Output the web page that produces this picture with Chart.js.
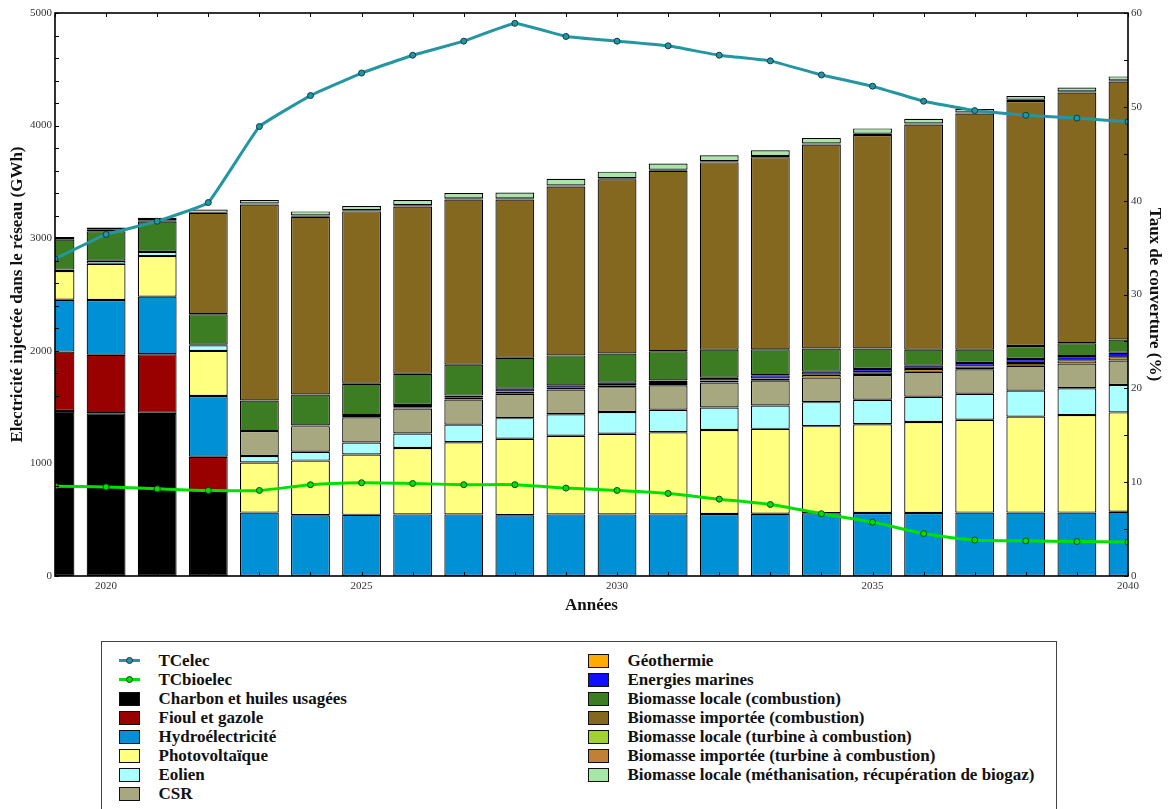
<!DOCTYPE html>
<html><head><meta charset="utf-8">
<script src="https://cdn.jsdelivr.net/npm/chart.js@4.4.1/dist/chart.umd.min.js"></script>
<style>
html,body{margin:0;padding:0;background:#fff;}
#wrap{position:relative;width:1170px;height:809px;overflow:hidden;background:#fff;}
#c{position:absolute;left:0;top:0;}
#legend{position:absolute;left:101px;top:641px;width:956px;height:230px;border:1.5px solid #444;box-sizing:border-box;font:bold 17px 'Liberation Serif','Times New Roman',serif;color:#111;}
.col{position:absolute;top:9px;}
.item{position:relative;height:19px;line-height:19px;white-space:nowrap;}
.sw{position:absolute;left:0;top:2.5px;width:21px;height:14px;box-sizing:border-box;border:1px solid #111;}
.ln{position:absolute;left:0;top:8px;width:21px;height:3px;}
.dot{position:absolute;left:7px;top:-2px;width:7px;height:7px;border-radius:50%;box-sizing:border-box;border:1px solid #0b2b2b;}
.tx{position:absolute;left:40px;top:0;}
</style></head>
<body>
<div id="wrap">
<canvas id="c" width="1170" height="625"></canvas>
<div id="legend"></div>
</div>
<script>
// ---- Data ----
const years = [2019,2020,2021,2022,2023,2024,2025,2026,2027,2028,2029,2030,2031,2032,2033,2034,2035,2036,2037,2038,2039,2040];
const charbon    = [1466,1446,1449,747,0,0,0,0,0,0,0,0,0,0,0,0,0,0,0,0,0,0];
const fioul      = [527,519,520,312,0,0,0,0,0,0,0,0,0,0,0,0,0,0,0,0,0,0];
const hydro      = [461,486,512,540,563,540,543,547,547,540,547,547,547,550,553,557,560,560,563,563,563,570];
const pv         = [255,322,360,400,445,485,536,590,641,679,699,716,729,747,754,774,788,808,825,852,866,883];
const eolien     = [12,27,37,50,58,78,106,129,156,183,190,193,201,200,207,213,217,224,231,231,238,244];
const csr        = [0,0,0,5,221,228,224,221,224,217,220,221,217,221,221,218,220,221,217,221,220,217];
const geo        = [0,0,0,0,0,0,0,12,14,20,15,18,20,18,20,25,25,25,25,25,28,28];
const marines    = [0,0,0,0,0,6,20,20,20,25,22,22,22,25,28,28,28,30,30,35,38,40];
const bioLocComb = [266,262,269,271,271,275,278,277,275,274,266,259,260,249,230,205,182,142,119,116,114,119];
const bioImpComb = [15,14,12,900,1741,1579,1531,1486,1467,1406,1500,1547,1602,1663,1707,1812,1897,1999,2097,2176,2227,2291];
const bioLocTurb = [0,0,0,0,10,10,10,10,10,10,10,10,10,10,10,10,10,10,10,10,10,10];
const bioImpTurb = [0,0,0,0,0,0,0,0,0,0,0,0,0,0,0,0,0,0,0,0,0,0];
const methan     = [8,20,22,30,31,37,38,48,47,51,58,58,55,54,51,48,48,41,31,34,34,35];
const tcElec     = [33.8,36.4,37.8,39.8,47.9,51.2,53.6,55.5,57.0,58.9,57.5,57.0,56.5,55.5,54.9,53.4,52.2,50.6,49.6,49.1,48.8,48.4];
const tcBioelec  = [9.57,9.49,9.29,9.12,9.12,9.73,9.94,9.86,9.73,9.73,9.37,9.12,8.80,8.19,7.62,6.64,5.74,4.52,3.83,3.75,3.67,3.62];

const leftTicks = [0,1000,2000,3000,4000,5000];
const rightTicks = [0,10,20,30,40,50,60];
const xLabelYears = [2020,2025,2030,2035,2040];

const barSeries = [
  ['Charbon et huiles usagées', charbon, '#000000'],
  ['Fioul et gazole', fioul, '#990000'],
  ['Hydroélectricité', hydro, '#0090d6'],
  ['Photovoltaïque', pv, '#ffff80'],
  ['Eolien', eolien, '#aaffff'],
  ['CSR', csr, '#a8a880'],
  ['Géothermie', geo, '#ffaa00'],
  ['Energies marines', marines, '#1010ff'],
  ['Biomasse locale (combustion)', bioLocComb, '#3c7d24'],
  ['Biomasse importée (combustion)', bioImpComb, '#846820'],
  ['Biomasse locale (turbine à combustion)', bioLocTurb, '#a2d230'],
  ['Biomasse importée (turbine à combustion)', bioImpTurb, '#c08038'],
  ['Biomasse locale (méthanisation, récupération de biogaz)', methan, '#a8e6a8']
];
const lineSeries = [
  ['TCelec', tcElec, '#2396a2', '#0d3d44', 0.08],
  ['TCbioelec', tcBioelec, '#00e000', '#0a4a0a', 0.25]
];

const FONT = "'Liberation Serif','Times New Roman',serif";
Chart.defaults.font.family = FONT;

const datasets = [];
lineSeries.forEach(([name, vals, col, bcol, tens]) => {
  datasets.push({
    type:'line', label:name, yAxisID:'y1', xAxisID:'x', order:0,
    data: years.map((y,i)=>({x:y, y:vals[i]})),
    borderColor:col, borderWidth:3, tension:tens,
    pointRadius:3, pointBackgroundColor:col, pointBorderColor:bcol, pointBorderWidth:1
  });
});
barSeries.forEach(([name, vals, col]) => {
  datasets.push({
    type:'bar', label:name, yAxisID:'y', xAxisID:'x', order:1, clip:0,
    data: years.map((y,i)=>({x:y, y:vals[i]})),
    backgroundColor:col, borderColor:'#000', borderWidth:1.2, borderSkipped:false,
    barPercentage:0.76, categoryPercentage:1.0
  });
});

const frameTicks = {
  id:'frameTicks',
  afterDraw(chart){
    const {ctx, chartArea:a, scales:{x,y,y1}} = chart;
    ctx.save();
    ctx.strokeStyle = '#000';
    ctx.lineWidth = 1;
    ctx.beginPath();
    years.forEach(v => {
      const px = Math.round(x.getPixelForValue(v)) + 0.5;
      ctx.moveTo(px, a.bottom); ctx.lineTo(px, a.bottom - 4);
      ctx.moveTo(px, a.top); ctx.lineTo(px, a.top + 4);
    });
    for (let v = y.min; v <= y.max; v += 200) {
      const py = Math.round(y.getPixelForValue(v)) + 0.5;
      ctx.moveTo(a.left, py); ctx.lineTo(a.left + 4, py);
    }
    for (let v = y1.min; v <= y1.max; v += 5) {
      const py = Math.round(y1.getPixelForValue(v)) + 0.5;
      ctx.moveTo(a.right, py); ctx.lineTo(a.right - 4, py);
    }
    ctx.stroke();
    ctx.lineWidth = 1.6;
    ctx.strokeRect(a.left, a.top, a.right - a.left, a.bottom - a.top);
    ctx.restore();
  }
};

const tickFont = {size:11, family:FONT};
const titleFont = {size:17, weight:'bold', family:FONT};

const chart = new Chart(document.getElementById('c'), {
  data:{datasets},
  options:{
    responsive:false, animation:false, devicePixelRatio:1,
    layout:{padding:{top:13,left:0,right:0,bottom:0}},
    plugins:{legend:{display:false}, tooltip:{enabled:false}},
    scales:{
      x:{type:'linear', min:years[0], max:years[years.length-1], stacked:true, offset:false,
        grid:{display:false, drawTicks:false}, border:{display:false},
        afterFit(s){ s.height = 49; },
        afterBuildTicks(s){ s.ticks = years.map(v=>({value:v})); },
        ticks:{autoSkip:false, maxRotation:0, padding:4, color:'#333', font:tickFont,
          callback:(v)=> xLabelYears.includes(v) ? String(v) : ''},
        title:{display:true, text:'Années', color:'#111', font:titleFont, padding:{top:0,bottom:9}}
      },
      y:{type:'linear', position:'left', min:0, max:5000, stacked:true,
        grid:{display:false, drawTicks:false}, border:{display:false},
        afterFit(s){ s.width = 55; },
        afterBuildTicks(s){ s.ticks = leftTicks.map(v=>({value:v})); },
        ticks:{padding:3, color:'#333', font:tickFont, callback:(v)=>String(v)},
        title:{display:true, text:'Electricité injectée dans le réseau (GWh)', color:'#111', font:titleFont, padding:{top:7,bottom:0}}
      },
      y1:{type:'linear', position:'right', min:0, max:60,
        grid:{display:false, drawTicks:false}, border:{display:false},
        afterFit(s){ s.width = 42; },
        afterBuildTicks(s){ s.ticks = rightTicks.map(v=>({value:v})); },
        ticks:{padding:3, color:'#333', font:tickFont, callback:(v)=>String(v)},
        title:{display:true, text:'Taux de couverture (%)', color:'#111', font:titleFont, padding:{top:5,bottom:0}}
      }
    }
  },
  plugins:[frameTicks]
});

// ---- HTML legend built from the chart's datasets ----
const legend = document.getElementById('legend');
const items = chart.data.datasets.map(d => d);
const col1 = items.slice(0, 8), col2 = items.slice(8);
function makeCol(list, left){
  const c = document.createElement('div');
  c.className = 'col'; c.style.left = left + 'px';
  list.forEach(d => {
    const it = document.createElement('div'); it.className = 'item';
    if (d.type === 'line') {
      const l = document.createElement('div'); l.className = 'ln'; l.style.background = d.borderColor;
      const dot = document.createElement('div'); dot.className = 'dot';
      dot.style.background = d.pointBackgroundColor; dot.style.borderColor = d.pointBorderColor;
      l.appendChild(dot); it.appendChild(l);
    } else {
      const s = document.createElement('div'); s.className = 'sw'; s.style.background = d.backgroundColor;
      it.appendChild(s);
    }
    const t = document.createElement('div'); t.className = 'tx'; t.textContent = d.label;
    it.appendChild(t);
    c.appendChild(it);
  });
  legend.appendChild(c);
}
makeCol(col1, 16.5);
makeCol(col2, 485.5);
</script>
</body></html>
